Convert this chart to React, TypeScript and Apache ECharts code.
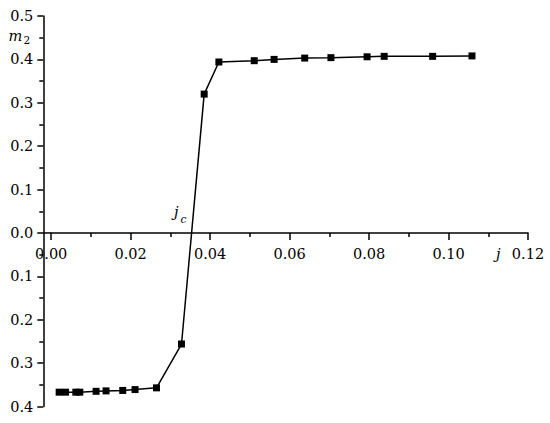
import React, { useEffect, useRef } from "react";
import * as echarts from "echarts";

// j (current density) and m2 values
const jValues = [0.002, 0.0036, 0.0062, 0.0072, 0.0113, 0.0138, 0.018, 0.0211, 0.0265, 0.0328, 0.0385, 0.0422, 0.0511, 0.0561, 0.0638, 0.0704, 0.0795, 0.0838, 0.096, 0.1059];
const m2Values = [-0.367, -0.367, -0.367, -0.367, -0.365, -0.364, -0.363, -0.361, -0.357, -0.256, 0.32, 0.394, 0.397, 0.4, 0.403, 0.404, 0.406, 0.407, 0.407, 0.408];

const xRange = { min: 0, max: 0.12, interval: 0.02 };
const yRange = { min: -0.4, max: 0.5, interval: 0.1 };

const FONT = "DejaVu Serif";
const INK = "#000";

const GRID = { left: 51.2, right: 22, top: 16, bottom: 16.5 };
const HEIGHT = 423;

function textEl(text: string, x: number, y: number, size: number, italic: boolean, align = "left") {
  return {
    type: "text",
    x,
    y,
    silent: true,
    style: {
      text,
      fill: INK,
      font: `${italic ? "italic " : ""}${size}px ${FONT}`,
      align,
      verticalAlign: "middle",
      textAlign: align,
      textVerticalAlign: "middle",
    },
  };
}

export default function App() {
  const ref = useRef<HTMLDivElement>(null);
  useEffect(() => {
    if (!ref.current) return;
    const chart = echarts.init(ref.current, undefined, { renderer: "svg" });
    const axisLineStyle = { color: INK, width: 1.5 };
    const gridHeight = HEIGHT - GRID.top - GRID.bottom;
    // move the x axis from the grid bottom up to m2 = 0
    const xOffset = -gridHeight * (0 - yRange.min) / (yRange.max - yRange.min);
    const labelStyle = { color: INK, fontFamily: FONT, fontSize: 14.5 };
    const option: any = {
      animation: false,
      textStyle: { fontFamily: FONT },
      grid: { ...GRID, outerBoundsMode: "none", containLabel: false },
      xAxis: {
        type: "value",
        position: "bottom",
        offset: xOffset,
        min: xRange.min,
        max: xRange.max,
        interval: xRange.interval,
        axisLine: { show: true, onZero: false, lineStyle: axisLineStyle },
        axisTick: { show: true, length: 7, lineStyle: axisLineStyle },
        minorTick: { show: true, splitNumber: 2, length: 4, lineStyle: axisLineStyle },
        axisLabel: {
          margin: 14,
          ...labelStyle,
          formatter: (v: number) => v.toFixed(2),
        },
        splitLine: { show: false },
        minorSplitLine: { show: false },
      },
      yAxis: {
        type: "value",
        min: yRange.min,
        max: yRange.max,
        interval: yRange.interval,
        offset: 7.9,
        axisLine: { show: true, onZero: false, lineStyle: axisLineStyle },
        axisTick: { show: true, length: 6, lineStyle: axisLineStyle },
        minorTick: { show: true, splitNumber: 2, length: 4, lineStyle: axisLineStyle },
        axisLabel: {
          margin: 10,
          ...labelStyle,
          formatter: (v: number) => Math.abs(v).toFixed(1),
        },
        splitLine: { show: false },
        minorSplitLine: { show: false },
      },
      series: [
        {
          type: "line",
          data: jValues.map((j, i) => [j, m2Values[i]]),
          symbol: "rect",
          symbolSize: 7,
          showSymbol: true,
          itemStyle: { color: INK },
          lineStyle: { color: INK, width: 1.5 },
          z: 3,
        },
      ],
    };
    chart.setOption(option);

    const p0 = chart.convertToPixel({ gridIndex: 0 }, [0, 0]) as number[];
    const axisX = p0[0] - 7.9;
    chart.setOption({
      graphic: [
        {
          type: "line",
          silent: true,
          shape: { x1: axisX, y1: p0[1], x2: p0[0], y2: p0[1] },
          style: { stroke: INK, lineWidth: 1.5 },
        },
        textEl("m", 8.5, 36, 14.5, true),
        textEl("2", 23.5, 39.7, 10.5, false),
        textEl("j", 174, 212, 14.5, true),
        textEl("c", 180.5, 219.4, 10.5, true),
        textEl("j", 496, 253.5, 14.5, true),
      ],
    });

    return () => chart.dispose();
  }, []);
  return (
    <div
      ref={ref}
      style={{ position: "fixed", left: 0, top: 0, width: 550, height: 423, background: "#fff" }}
    />
  );
}
